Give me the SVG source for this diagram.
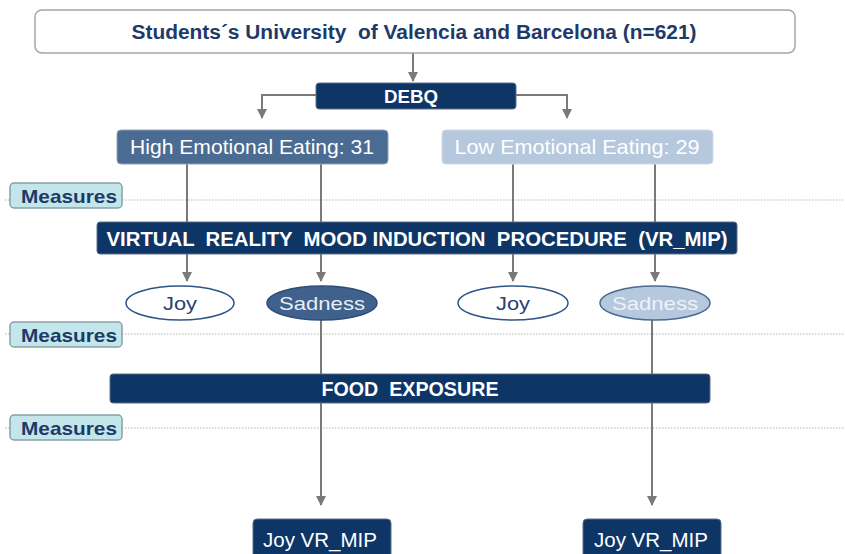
<svg xmlns="http://www.w3.org/2000/svg" width="845" height="554" viewBox="0 0 845 554">
<defs>
<marker id="ah" viewBox="0 0 10 10" refX="9" refY="5" markerWidth="5" markerHeight="5" orient="auto" markerUnits="strokeWidth">
<path d="M0,0 L10,5 L0,10 z" fill="#7a7a7a"/>
</marker>
</defs>
<style>
text{font-family:"Liberation Sans Narrow","Liberation Sans",Arial,sans-serif;text-anchor:middle}
.navy{fill:#0d3566;stroke:#5c6e86;stroke-width:1}
.w{fill:#ffffff}
.b{font-weight:bold}
.conn{fill:none;stroke:#7a7a7a;stroke-width:2}
.dot{fill:none;stroke:#b5b5b5;stroke-width:1.2;stroke-dasharray:1.5 1.5}
.meas{fill:#c2e6ea;stroke:#8a9ea6;stroke-width:1.5}
.mt{fill:#1e3a68;font-weight:bold;font-size:19px}
.el{font-size:19px}
</style>
<rect width="845" height="554" fill="#ffffff"/>
<g id="guides">
<line class="dot" x1="5" y1="200" x2="845" y2="200"/>
<line class="dot" x1="5" y1="334" x2="845" y2="334"/>
<line class="dot" x1="5" y1="428" x2="845" y2="428"/>
</g>
<g id="connectors">
<line class="conn" x1="413" y1="53" x2="413" y2="81" marker-end="url(#ah)"/>
<polyline class="conn" points="316,95 262,95 262,118" marker-end="url(#ah)"/>
<polyline class="conn" points="516,95 567,95 567,118" marker-end="url(#ah)"/>
<line class="conn" x1="187" y1="164" x2="187" y2="281" marker-end="url(#ah)"/>
<line class="conn" x1="321" y1="164" x2="321" y2="281" marker-end="url(#ah)"/>
<line class="conn" x1="513" y1="164" x2="513" y2="281" marker-end="url(#ah)"/>
<line class="conn" x1="655" y1="164" x2="655" y2="281" marker-end="url(#ah)"/>
<line class="conn" x1="321" y1="320" x2="321" y2="505" marker-end="url(#ah)"/>
<line class="conn" x1="652" y1="320" x2="652" y2="505" marker-end="url(#ah)"/>
</g>
<g id="students">
<rect x="35" y="10" width="760" height="43" rx="7" fill="#ffffff" stroke="#a6a6a6" stroke-width="1.5"/>
<text x="414" y="39" class="b" font-size="20" fill="#1e3a68" xml:space="preserve" textLength="565" lengthAdjust="spacingAndGlyphs">Students´s University  of Valencia and Barcelona (n=621)</text>
</g>
<g id="debq">
<rect x="316" y="83" width="200" height="26" rx="3" class="navy"/>
<text x="411" y="103" class="w b" font-size="19" textLength="54" lengthAdjust="spacingAndGlyphs">DEBQ</text>
</g>
<g id="high">
<rect x="117" y="130" width="271" height="34" rx="4" fill="#4a6b92" stroke="#8ea0b6" stroke-width="1"/>
<text x="252" y="154" class="w" font-size="21" textLength="244" lengthAdjust="spacingAndGlyphs">High Emotional Eating: 31</text>
</g>
<g id="low">
<rect x="442" y="130" width="271" height="34" rx="4" fill="#b6c8de" stroke="#cfd9e6" stroke-width="1"/>
<text x="577" y="154" class="w" font-size="21" textLength="245" lengthAdjust="spacingAndGlyphs">Low Emotional Eating: 29</text>
</g>
<g id="measures1">
<rect x="10" y="183" width="112" height="25" rx="4" class="meas"/>
<text x="69" y="203" class="mt" textLength="96" lengthAdjust="spacingAndGlyphs">Measures</text>
</g>
<g id="vrmip">
<rect x="97" y="222" width="640" height="32" rx="3" class="navy"/>
<text x="417" y="246" class="w b" font-size="20" xml:space="preserve" textLength="621" lengthAdjust="spacingAndGlyphs">VIRTUAL  REALITY  MOOD INDUCTION  PROCEDURE  (VR_MIP)</text>
</g>
<g id="joy1">
<ellipse cx="180" cy="303" rx="54" ry="17" fill="#ffffff" stroke="#2e5584" stroke-width="1.5"/>
<text x="180" y="310" class="el" fill="#2b3f73" textLength="34" lengthAdjust="spacingAndGlyphs">Joy</text>
</g>
<g id="sad1">
<ellipse cx="322" cy="303" rx="55" ry="17" fill="#40618c" stroke="#2e4d78" stroke-width="1.5"/>
<text x="322" y="310" class="el" fill="#e8eef6" textLength="86" lengthAdjust="spacingAndGlyphs">Sadness</text>
</g>
<g id="joy2">
<ellipse cx="513" cy="303" rx="55" ry="17" fill="#ffffff" stroke="#2e5584" stroke-width="1.5"/>
<text x="513" y="310" class="el" fill="#2b3f73" textLength="34" lengthAdjust="spacingAndGlyphs">Joy</text>
</g>
<g id="sad2">
<ellipse cx="655" cy="303" rx="55" ry="17" fill="#b6c8de" stroke="#4a6b92" stroke-width="1.5"/>
<text x="655" y="310" class="el" fill="#eef3f8" textLength="86" lengthAdjust="spacingAndGlyphs">Sadness</text>
</g>
<g id="measures2">
<rect x="10" y="322" width="112" height="25" rx="4" class="meas"/>
<text x="69" y="342" class="mt" textLength="96" lengthAdjust="spacingAndGlyphs">Measures</text>
</g>
<g id="food">
<rect x="110" y="374" width="600" height="29" rx="3" class="navy"/>
<text x="410" y="396" class="w b" font-size="20" xml:space="preserve" textLength="177" lengthAdjust="spacingAndGlyphs">FOOD  EXPOSURE</text>
</g>
<g id="measures3">
<rect x="10" y="415" width="112" height="25" rx="4" class="meas"/>
<text x="69" y="435" class="mt" textLength="96" lengthAdjust="spacingAndGlyphs">Measures</text>
</g>
<g id="joyvr1">
<rect x="253" y="519" width="138" height="40" rx="4" class="navy"/>
<text x="320" y="547" class="w" font-size="21" textLength="114" lengthAdjust="spacingAndGlyphs">Joy VR_MIP</text>
</g>
<g id="joyvr2">
<rect x="583" y="519" width="138" height="40" rx="4" class="navy"/>
<text x="651" y="547" class="w" font-size="21" textLength="114" lengthAdjust="spacingAndGlyphs">Joy VR_MIP</text>
</g>
</svg>
